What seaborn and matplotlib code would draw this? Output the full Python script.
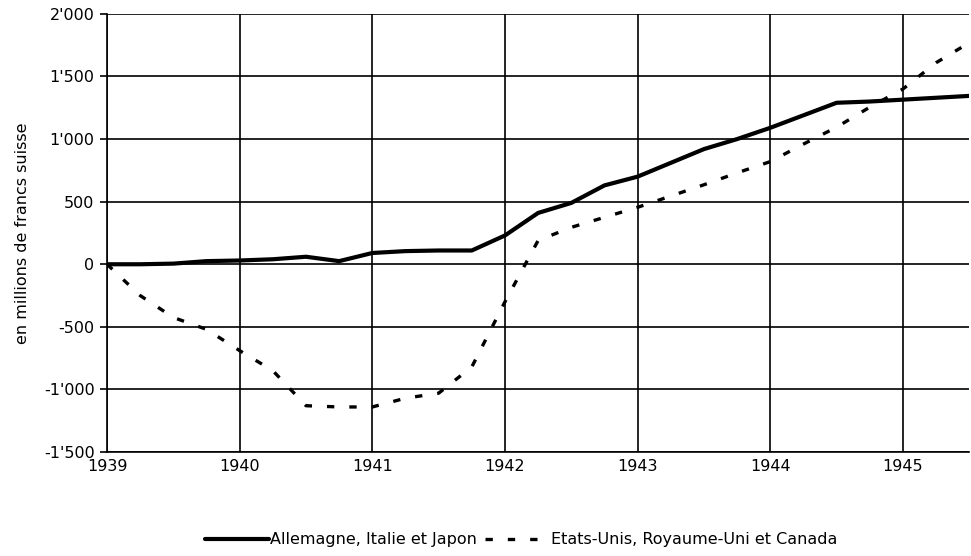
"""Solde des flux: Axe vs Alliés, 1939-1945."""
import matplotlib
matplotlib.use("Agg")
import matplotlib.pyplot as plt
import numpy as np
import pandas as pd
import seaborn as sns
from matplotlib.ticker import FuncFormatter

# quarterly points
quarters = [1939.00, 1939.25, 1939.50, 1939.75, 1940.00, 1940.25, 1940.50, 1940.75,
            1941.00, 1941.25, 1941.50, 1941.75, 1942.00, 1942.25, 1942.50, 1942.75,
            1943.00, 1943.25, 1943.50, 1943.75, 1944.00, 1944.25, 1944.50, 1944.75,
            1945.00, 1945.25, 1945.50]
axis_values = [0, 0, 5, 25, 30, 40, 60, 25,
               90, 105, 110, 110, 230, 410, 490, 630,
               700, 810, 920, 1000, 1090, 1190, 1290, 1300,
               1315, 1330, 1345]
allies_values = [0, -250, -425, -520, -690, -850, -1130, -1140,
                 -1140, -1070, -1030, -820, -300, 190, 295, 375,
                 455, 545, 635, 730, 820, 960, 1095, 1255,
                 1400, 1610, 1770]
series_names = ["Allemagne, Italie et Japon", "Etats-Unis, Royaume-Uni et Canada"]
year_ticks = [1939, 1940, 1941, 1942, 1943, 1944, 1945]
y_ticks = [-1500, -1000, -500, 0, 500, 1000, 1500, 2000]

df = pd.concat([
    pd.DataFrame({"annee": quarters, "valeur": axis_values, "serie": series_names[0]}),
    pd.DataFrame({"annee": quarters, "valeur": allies_values, "serie": series_names[1]}),
])

sns.set_theme(style="ticks")
plt.rcParams["font.family"] = ["DejaVu Sans"]
plt.rcParams["text.color"] = "black"

fig = plt.figure(figsize=(9.71, 5.56), dpi=100)
ax = fig.add_axes([0.1102, 0.187, 0.888, 0.788])

sns.lineplot(
    data=df, x="annee", y="valeur", hue="serie", style="serie",
    palette=["black", "black"], dashes={series_names[0]: "", series_names[1]: (2.2, 4.5)},
    ax=ax, legend=True,
)
for line, lw in zip(ax.get_lines(), [3.0, 2.4]):
    line.set_linewidth(lw)

ax.set_xlim(1939, 1945.5)
ax.set_ylim(-1500, 2000)
ax.set_xticks(year_ticks)
ax.set_yticks(y_ticks)
ax.yaxis.set_major_formatter(FuncFormatter(lambda v, _: f"{int(v):,}".replace(",", "'")))
ax.grid(True, color="black", linewidth=1.2)
ax.set_axisbelow(True)
for side in ["top", "right"]:
    ax.spines[side].set_visible(False)
for side in ["left", "bottom"]:
    ax.spines[side].set_color("black")
    ax.spines[side].set_linewidth(1.2)
ax.tick_params(axis="y", direction="out", length=5, width=1.2, color="black",
               labelsize=11.5, labelcolor="black", pad=4)
ax.tick_params(axis="x", length=0, labelsize=11.5, labelcolor="black", pad=5)
ax.set_xlabel("")
ax.set_ylabel("en millions de francs suisse", fontsize=11.5, color="black", labelpad=10)

handles, labels = ax.get_legend_handles_labels()
for h, lw in zip(handles, [3.0, 2.4]):
    h.set_linewidth(lw)
ax.legend(handles, labels, loc="upper center", bbox_to_anchor=(0.48, -0.15),
          ncol=2, frameon=False, fontsize=11.5, handlelength=4.0, handletextpad=0.1,
          columnspacing=0.5, labelcolor="black")

fig.savefig("out.png", dpi=100)
